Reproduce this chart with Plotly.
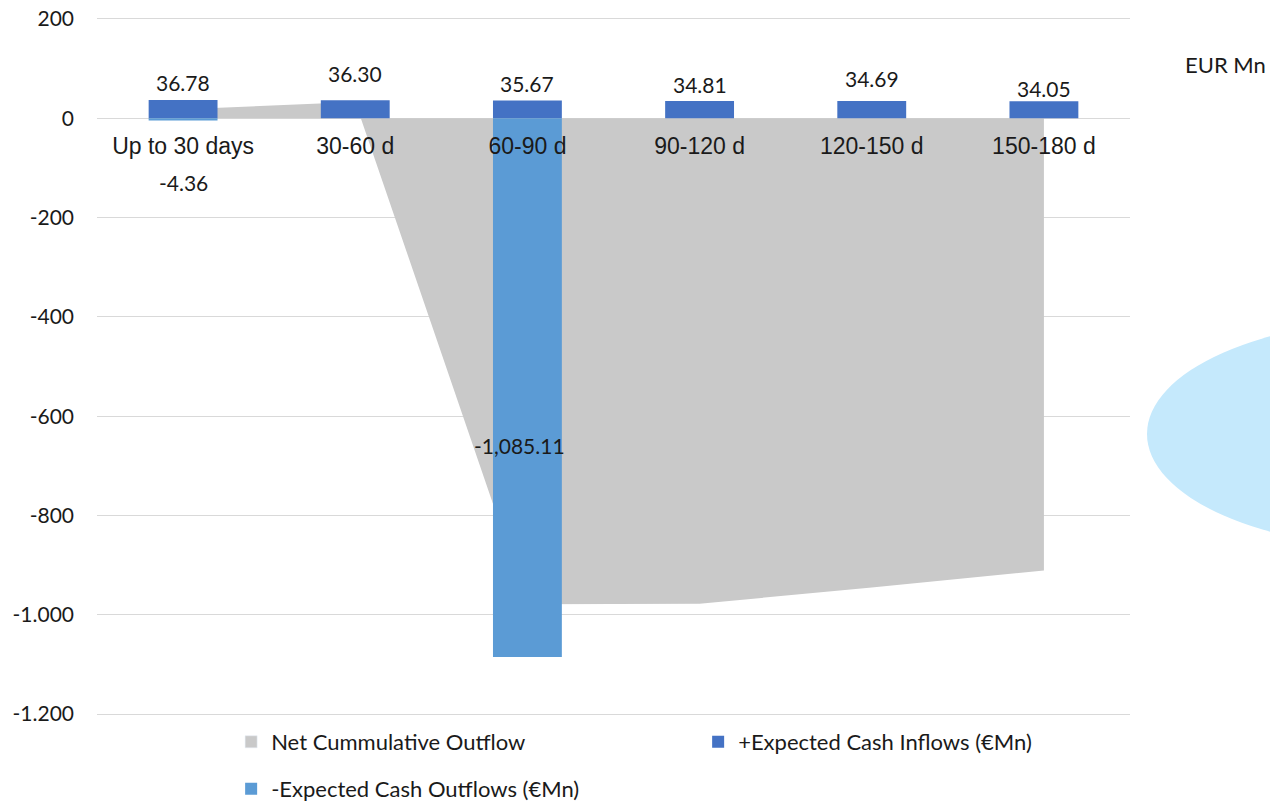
import plotly.graph_objects as go

# ---- data ----
categories = ["Up to 30 days", "30-60 d", "60-90 d", "90-120 d", "120-150 d", "150-180 d"]
inflows = [36.78, 36.30, 35.67, 34.81, 34.69, 34.05]
outflows = [-4.36, 0, -1085.11, 0, 0, 0]
net_cumulative = [18, 33, -979, -978, -945, -911]
ytick_vals = [200, 0, -200, -400, -600, -800, -1000, -1200]
ytick_text = ["200", "0", "-200", "-400", "-600", "-800", "-1.000", "-1.200"]

# ---- style ----
C_AREA = "#C9C9C9"
C_IN = "#4472C4"
C_OUT = "#5B9BD5"
GRID = "#D9D9D9"
TXT = "#1a1a1a"
LBL_FONT = "Lato"
CAT_FONT = "Liberation Sans"
inflow_label_dy = [18, 27, 17, 16, 23, 13]

W, H = 1270, 801
PL, PR, PT, PB = 97, 140, 16, 84
PW = W - PL - PR
PH = H - PT - PB
Y_RANGE = [-1206, 206]


def px_to_paper_x(px):
    return (px - PL) / PW


def px_to_paper_y(py):
    return (H - PB - py) / PH


fig = go.Figure()

# area (drawn on base axes, underneath the bars)
fig.add_trace(go.Scatter(
    x=categories, y=net_cumulative, fill="tozeroy", mode="none",
    fillcolor=C_AREA, name="Net Cummulative Outflow", showlegend=False,
    xaxis="x", yaxis="y", hoverinfo="skip"))

# legend-only swatch for the area (square like the original)
fig.add_trace(go.Bar(
    x=categories, y=[None] * len(categories), marker_color=C_AREA,
    name="Net Cummulative Outflow", xaxis="x2", yaxis="y2", legend="legend"))

fig.add_trace(go.Bar(
    x=categories, y=inflows, marker_color=C_IN, marker_line_width=0,
    name="+Expected Cash Inflows (€Mn)", xaxis="x2", yaxis="y2", legend="legend"))

fig.add_trace(go.Bar(
    x=categories, y=outflows, marker_color=C_OUT, marker_line_width=0,
    name="-Expected Cash Outflows (€Mn)", xaxis="x2", yaxis="y2", legend="legend2"))

annotations = []
for c, v, dy in zip(categories, inflows, inflow_label_dy):
    annotations.append(dict(
        x=c, y=v, xref="x2", yref="y2", text=f"{v:,.2f}", showarrow=False,
        yshift=dy, font=dict(family=LBL_FONT, size=21, color=TXT)))
# outflow labels
annotations.append(dict(
    x=categories[0], y=outflows[0], xref="x2", yref="y2", text=f"{outflows[0]:,.2f}",
    showarrow=False, yshift=-62, font=dict(family=LBL_FONT, size=21, color=TXT)))
annotations.append(dict(
    x=categories[2], y=outflows[2] / 2, xref="x2", yref="y2", text=f"{outflows[2]:,.2f}",
    showarrow=False, yshift=-58, xshift=-8, font=dict(family=LBL_FONT, size=21, color=TXT)))
annotations.append(dict(
    x=px_to_paper_x(1225), y=px_to_paper_y(65), xref="paper", yref="paper",
    xanchor="center", yanchor="middle",
    text="EUR Mn", showarrow=False, font=dict(family=LBL_FONT, size=22, color=TXT)))

zero_pos = (0 - Y_RANGE[0]) / (Y_RANGE[1] - Y_RANGE[0])

fig.update_layout(
    width=W, height=H, autosize=False,
    margin=dict(l=PL, r=PR, t=PT, b=PB, pad=0, autoexpand=False),
    paper_bgcolor="white", plot_bgcolor="white",
    barmode="overlay", bargap=0.6,
    xaxis=dict(type="category", range=[-0.5, 5.5], showgrid=False, zeroline=False,
               showticklabels=False, showline=False),
    yaxis=dict(range=Y_RANGE, tickvals=ytick_vals, ticktext=ytick_text,
               showgrid=True, gridcolor=GRID, gridwidth=1.3, zeroline=True,
               zerolinecolor=GRID, zerolinewidth=1.3, showline=False,
               ticklabelstandoff=22, automargin=False,
               tickfont=dict(family=LBL_FONT, size=21, color=TXT)),
    xaxis2=dict(type="category", range=[-0.5, 5.5], overlaying="x", anchor="free",
                position=zero_pos, showgrid=False, zeroline=False, showline=False,
                ticks="", ticklabelstandoff=12, automargin=False,
                tickfont=dict(family=CAT_FONT, size=23, color=TXT)),
    yaxis2=dict(range=Y_RANGE, overlaying="y", visible=False),
    showlegend=True,
    legend=dict(orientation="h", xref="container", yref="container",
                x=0.182, xanchor="left", y=1 - 742 / H, yanchor="middle",
                entrywidth=422, font=dict(family=LBL_FONT, size=22, color=TXT),
                bgcolor="rgba(0,0,0,0)"),
    legend2=dict(orientation="h", xref="container", yref="container",
                 x=0.182, xanchor="left", y=1 - 789 / H, yanchor="middle",
                 font=dict(family=LBL_FONT, size=22, color=TXT),
                 bgcolor="rgba(0,0,0,0)"),
    annotations=annotations,
    shapes=[dict(type="circle", xref="paper", yref="paper",
                 x0=px_to_paper_x(1147), x1=px_to_paper_x(1667),
                 y0=px_to_paper_y(549), y1=px_to_paper_y(319),
                 fillcolor="#C5E9FC", line=dict(width=0), layer="below")],
    hovermode=False,
)

fig.write_html("out.html", config={"displayModeBar": False},
               post_script="document.body.style.margin='0';")
